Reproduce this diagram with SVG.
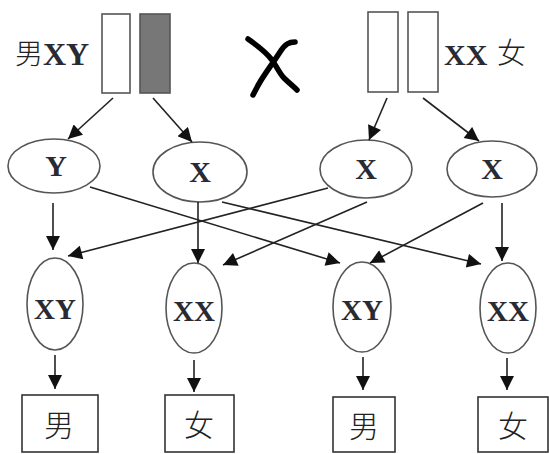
<svg xmlns="http://www.w3.org/2000/svg" width="549" height="454" viewBox="0 0 549 454">
<style>
.lbl{font-family:"Liberation Serif","Noto Sans CJK SC",serif;fill:#2a2a33;font-weight:bold;}
.cjk{font-family:"Noto Sans CJK SC","Liberation Sans",sans-serif;fill:#222;font-weight:300;}
.ell{fill:#fff;stroke:#555;stroke-width:1.6;}
.box{fill:#fff;stroke:#333;stroke-width:1.6;}
.chr{stroke:#555;stroke-width:1.6;}
.conn line{stroke:#222;stroke-width:1.6;marker-end:url(#ah);}
</style>
<defs>
<marker id="ah" viewBox="0 0 10 10" refX="10" refY="5" markerUnits="userSpaceOnUse" markerWidth="15" markerHeight="14" orient="auto">
<path d="M0,0 L10,5 L0,10 Z" fill="#111"/>
</marker>
</defs>
<rect width="549" height="454" fill="#fff"/>

<g id="male-parent">
<text class="cjk" x="15" y="64" font-size="28">男</text>
<text class="lbl" x="43" y="65" font-size="32">XY</text>
<rect class="chr" x="102" y="14" width="28" height="79" fill="#fff"/>
<rect class="chr" x="140" y="14" width="30" height="79" fill="#777"/>
</g>

<g id="cross">
<path d="M248,39 C258,46 266,52 272,60 C277,67 280,74 284,78 C289,83 293,86 297,90" fill="none" stroke="#000" stroke-width="5.5" stroke-linecap="round"/>
<path d="M295,42 C289,42 285,44 280,52 C273,63 266,72 260,82 C257,87 255,91 253,95" fill="none" stroke="#000" stroke-width="5.5" stroke-linecap="round"/>
</g>

<g id="female-parent">
<rect class="chr" x="368" y="12" width="30" height="80" fill="#fff"/>
<rect class="chr" x="408" y="12" width="30" height="80" fill="#fff"/>
<text class="lbl" x="444" y="65" font-size="30">XX</text>
<text class="cjk" x="497" y="64" font-size="29">女</text>
</g>

<g id="g-Y"><ellipse class="ell" cx="54" cy="166" rx="46" ry="27"/><text class="lbl" x="56" y="176" font-size="30" text-anchor="middle">Y</text></g>
<g id="g-X1"><ellipse class="ell" cx="200" cy="172" rx="47" ry="30"/><text class="lbl" x="200" y="182" font-size="30" text-anchor="middle">X</text></g>
<g id="g-X2"><ellipse class="ell" cx="366" cy="169" rx="46" ry="29"/><text class="lbl" x="366" y="179" font-size="30" text-anchor="middle">X</text></g>
<g id="g-X3"><ellipse class="ell" cx="492" cy="169" rx="45" ry="28"/><text class="lbl" x="492" y="179" font-size="30" text-anchor="middle">X</text></g>

<g id="z-XY1"><ellipse class="ell" cx="55" cy="304" rx="28" ry="46"/><text class="lbl" x="55" y="319" font-size="29" text-anchor="middle">XY</text></g>
<g id="z-XX1"><ellipse class="ell" cx="194" cy="308" rx="28" ry="45"/><text class="lbl" x="194" y="321" font-size="29" text-anchor="middle">XX</text></g>
<g id="z-XY2"><ellipse class="ell" cx="362" cy="307" rx="29" ry="45"/><text class="lbl" x="362" y="320" font-size="29" text-anchor="middle">XY</text></g>
<g id="z-XX2"><ellipse class="ell" cx="508" cy="308" rx="28" ry="45"/><text class="lbl" x="508" y="321" font-size="29" text-anchor="middle">XX</text></g>

<g id="c-1"><rect class="box" x="22" y="395" width="76" height="57"/><text class="cjk" x="59" y="436" font-size="30" text-anchor="middle">男</text></g>
<g id="c-2"><rect class="box" x="165" y="395" width="69" height="57"/><text class="cjk" x="199" y="436" font-size="30" text-anchor="middle">女</text></g>
<g id="c-3"><rect class="box" x="333" y="397" width="62" height="55"/><text class="cjk" x="364" y="437" font-size="30" text-anchor="middle">男</text></g>
<g id="c-4"><rect class="box" x="478" y="397" width="70" height="55"/><text class="cjk" x="513" y="437" font-size="30" text-anchor="middle">女</text></g>

<g id="connectors" class="conn">
<line x1="113" y1="98" x2="68" y2="139"/>
<line x1="153" y1="98" x2="192" y2="142"/>
<line x1="387" y1="98" x2="369" y2="140"/>
<line x1="423" y1="98" x2="479" y2="141"/>

<line x1="53" y1="203" x2="53" y2="250"/>
<line x1="90" y1="187" x2="340" y2="263"/>
<line x1="198" y1="202" x2="198" y2="263"/>
<line x1="222" y1="202" x2="481" y2="264"/>
<line x1="328" y1="188" x2="68" y2="256"/>
<line x1="367" y1="202" x2="223" y2="265"/>
<line x1="483" y1="203" x2="370" y2="263"/>
<line x1="502" y1="203" x2="502" y2="261"/>

<line x1="55" y1="355" x2="55" y2="389"/>
<line x1="194" y1="360" x2="194" y2="392"/>
<line x1="363" y1="357" x2="363" y2="390"/>
<line x1="507" y1="358" x2="507" y2="390"/>
</g>
</svg>
